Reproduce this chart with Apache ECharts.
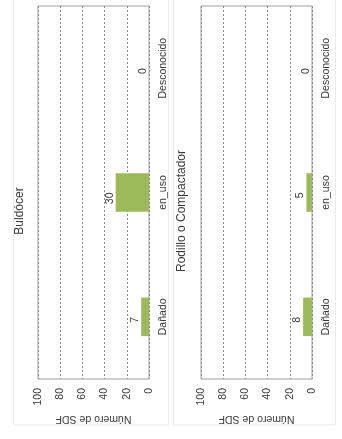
<!DOCTYPE html>
<html><head><meta charset="utf-8">
<script src="https://cdn.jsdelivr.net/npm/echarts@6/dist/echarts.min.js"></script>
<style>html,body{margin:0;padding:0;background:#fff}#c{width:342px;height:439px}</style>
</head><body><div id="c"></div>
<script>
const categories = ['Dañado', 'en_uso', 'Desconocido'];
const titles = ['Buldócer', 'Rodillo o Compactador'];
const valuesBuldocer = [7, 30, 0];
const valuesRodillo = [8, 5, 0];
const valueTicks = [0, 20, 40, 60, 80, 100];
const axisName = 'Número de SDF';

const FONT = 'Liberation Sans';
const TXT = '#3a3a3a';
const chart = echarts.init(document.getElementById('c'), null, {renderer: 'canvas'});

const grids = [
  {left: 38, right: 193, top: 6, bottom: 60},
  {left: 201, right: 30, top: 6, bottom: 60}
];
const seriesData = [valuesBuldocer, valuesRodillo];

const option = {
  backgroundColor: '#fff',
  animation: false,
  graphic: [
    {type: 'rect', shape: {x: 13.5, y: -5, width: 155, height: 430}, style: {fill: 'none', stroke: '#ebebeb', lineWidth: 1}, z: 0},
    {type: 'rect', shape: {x: 173.5, y: -5, width: 162, height: 430}, style: {fill: 'none', stroke: '#ebebeb', lineWidth: 1}, z: 0},
    {type: 'text', x: 20, y: 211, rotation: Math.PI / 2,
     style: {text: titles[0], fill: TXT, font: '12px ' + FONT, textAlign: 'center', textVerticalAlign: 'middle'}},
    {type: 'text', x: 182, y: 211, rotation: Math.PI / 2,
     style: {text: titles[1], fill: TXT, font: '12px ' + FONT, textAlign: 'center', textVerticalAlign: 'middle'}}
  ],
  grid: grids.map(g => Object.assign({show: true, borderColor: '#a0a0a0', borderWidth: 1, backgroundColor: '#fff'}, g)),
  xAxis: grids.map((g, i) => ({
    type: 'value', gridIndex: i, inverse: true, min: valueTicks[0], max: valueTicks[valueTicks.length - 1], interval: 20,
    position: 'bottom',
    name: axisName, nameLocation: 'middle', nameGap: 28, nameRotate: 180,
    nameTextStyle: {color: TXT, fontSize: 10.5, fontFamily: FONT},
    axisLine: {show: false}, axisTick: {show: false},
    axisLabel: {rotate: 90, color: TXT, fontSize: 10.5, fontFamily: FONT, margin: 9},
    splitLine: {show: true, lineStyle: {type: [2, 2], color: '#8a8a8a', width: 1}}
  })),
  yAxis: grids.map((g, i) => ({
    type: 'category', gridIndex: i, data: categories, position: 'right',
    axisLine: {show: false}, axisTick: {show: false},
    axisLabel: {rotate: 90, color: TXT, fontSize: 10.5, fontFamily: FONT, margin: 9}
  })),
  series: seriesData.map((d, i) => ({
    type: 'bar', xAxisIndex: i, yAxisIndex: i, data: d, barWidth: '31%',
    itemStyle: {color: '#9bbb59'},
    label: {show: true, position: 'left', rotate: 90, distance: 6, color: TXT, fontSize: 10.5, fontFamily: FONT}
  }))
};
chart.setOption(option);
</script>
</body></html>
